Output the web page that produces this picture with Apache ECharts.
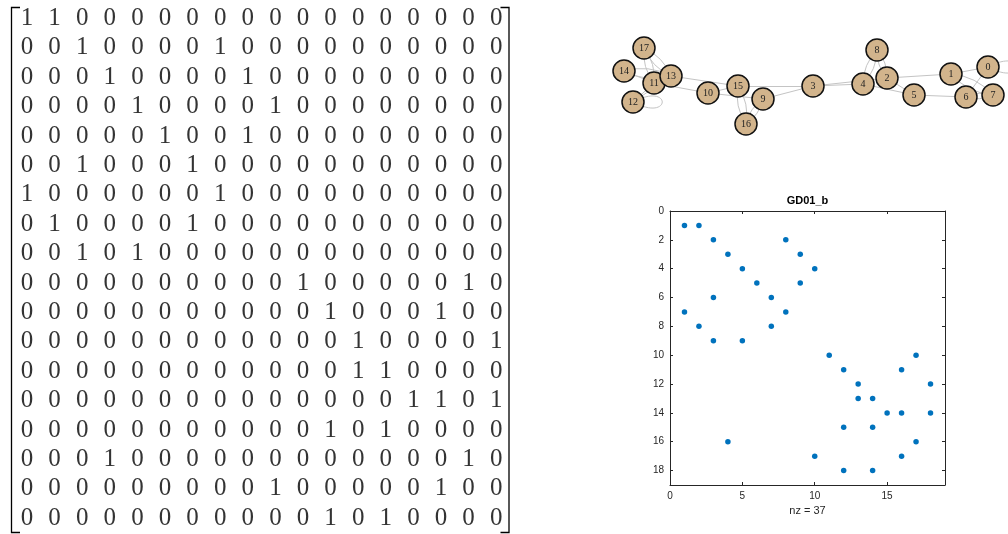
<!DOCTYPE html>
<html>
<head>
<meta charset="utf-8">
<script src="https://cdn.jsdelivr.net/npm/echarts@6/dist/echarts.min.js"></script>
<style>
    html, body { margin: 0; padding: 0; background: #fff; }
    #main { width: 1008px; height: 534px; }
</style>
</head>
<body>
<div id="main"></div>
<script>
// GD01_b adjacency matrix, row i -> node i-1
const matrix = [
    [1,1,0,0,0,0,0,0,0,0,0,0,0,0,0,0,0,0],
    [0,0,1,0,0,0,0,1,0,0,0,0,0,0,0,0,0,0],
    [0,0,0,1,0,0,0,0,1,0,0,0,0,0,0,0,0,0],
    [0,0,0,0,1,0,0,0,0,1,0,0,0,0,0,0,0,0],
    [0,0,0,0,0,1,0,0,1,0,0,0,0,0,0,0,0,0],
    [0,0,1,0,0,0,1,0,0,0,0,0,0,0,0,0,0,0],
    [1,0,0,0,0,0,0,1,0,0,0,0,0,0,0,0,0,0],
    [0,1,0,0,0,0,1,0,0,0,0,0,0,0,0,0,0,0],
    [0,0,1,0,1,0,0,0,0,0,0,0,0,0,0,0,0,0],
    [0,0,0,0,0,0,0,0,0,0,1,0,0,0,0,0,1,0],
    [0,0,0,0,0,0,0,0,0,0,0,1,0,0,0,1,0,0],
    [0,0,0,0,0,0,0,0,0,0,0,0,1,0,0,0,0,1],
    [0,0,0,0,0,0,0,0,0,0,0,0,1,1,0,0,0,0],
    [0,0,0,0,0,0,0,0,0,0,0,0,0,0,1,1,0,1],
    [0,0,0,0,0,0,0,0,0,0,0,1,0,1,0,0,0,0],
    [0,0,0,1,0,0,0,0,0,0,0,0,0,0,0,0,1,0],
    [0,0,0,0,0,0,0,0,0,1,0,0,0,0,0,1,0,0],
    [0,0,0,0,0,0,0,0,0,0,0,1,0,1,0,0,0,0]
];

// graph layout (node 0..17)
const nodeX = [388, 351, 287, 213, 263, 314, 366, 393, 277, 163, 108, 54, 33, 71, 24, 138, 146, 44];
const nodeY = [37, 44, 48, 56, 54, 65, 67, 65, 20, 69, 63, 53, 72, 46, 41, 56, 94, 18];

const spyTitle = 'GD01_b';
const xTicksSpy = 5;
const yTicksSpy = 2;

let cells = [];
let nonzeros = [];
let links = [];
let loops = [];
matrix.forEach((row, r) => {
    row.forEach((v, c) => {
        cells.push([c + 1, r + 1, v]);
        if (v !== 0) {
            nonzeros.push([c + 1, r + 1]);
            if (r === c) {
                loops.push([nodeX[r], nodeY[r]]);
            } else {
                links.push({source: String(r), target: String(c)});
            }
        }
    });
});

const axisColor = '#262626';
const edgeColor = '#c4c4c4';
const sans = 'Liberation Sans, Arial, sans-serif';

// self loops: drawn to the right of the node, like igraph
function renderLoop(params, api) {
    let p = api.coord([api.value(0), api.value(1)]);
    let x = p[0], y = p[1];
    return {
        type: 'bezierCurve',
        shape: {x1: x, y1: y, x2: x, y2: y, cpx1: x + 39, cpy1: y - 21, cpx2: x + 39, cpy2: y + 21},
        style: {stroke: edgeColor, lineWidth: 1, fill: null},
        silent: true
    };
}

let chart = echarts.init(document.getElementById('main'));
let option = {
    animation: false,
    backgroundColor: '#fff',
    grid: [
        {left: 13.2, top: 3.8, width: 496.8, height: 529.2},
        {left: 600, top: 30, width: 408, height: 110},
        {left: 670, top: 211, width: 275, height: 274}
    ],
    xAxis: [
        {gridIndex: 0, type: 'value', min: 0.5, max: 18.5, show: false},
        {gridIndex: 1, type: 'value', min: 0, max: 408, show: false},
        {
            gridIndex: 2, type: 'value', min: 0, max: 19, interval: xTicksSpy, position: 'bottom',
            axisLine: {onZero: false, lineStyle: {color: axisColor, width: 1}},
            axisTick: {inside: true, length: 3, lineStyle: {color: axisColor}},
            axisLabel: {color: axisColor, fontSize: 10, fontFamily: sans, margin: 6, showMaxLabel: false},
            splitLine: {show: false},
            name: 'nz = ' + nonzeros.length, nameLocation: 'middle', nameGap: 20,
            nameTextStyle: {color: axisColor, fontSize: 11, fontFamily: sans}
        },
        {
            gridIndex: 2, type: 'value', min: 0, max: 19, interval: xTicksSpy, position: 'top',
            axisLine: {onZero: false, lineStyle: {color: axisColor, width: 1}},
            axisTick: {inside: true, length: 3, lineStyle: {color: axisColor}},
            axisLabel: {show: false},
            splitLine: {show: false},
            name: spyTitle, nameLocation: 'middle', nameGap: 5,
            nameTextStyle: {color: '#000', fontSize: 11, fontWeight: 'bold', fontFamily: sans}
        }
    ],
    yAxis: [
        {gridIndex: 0, type: 'value', min: 0.5, max: 18.5, inverse: true, show: false},
        {gridIndex: 1, type: 'value', min: 0, max: 110, inverse: true, show: false},
        {
            gridIndex: 2, type: 'value', min: 0, max: 19, interval: yTicksSpy, inverse: true, position: 'left',
            axisLine: {onZero: false, lineStyle: {color: axisColor, width: 1}},
            axisTick: {inside: true, length: 3, lineStyle: {color: axisColor}},
            axisLabel: {color: axisColor, fontSize: 10, fontFamily: sans, margin: 6, showMaxLabel: false},
            splitLine: {show: false}
        },
        {
            gridIndex: 2, type: 'value', min: 0, max: 19, interval: yTicksSpy, inverse: true, position: 'right',
            axisLine: {onZero: false, lineStyle: {color: axisColor, width: 1}},
            axisTick: {inside: true, length: 3, lineStyle: {color: axisColor}},
            axisLabel: {show: false},
            splitLine: {show: false}
        }
    ],
    graphic: [
        {
            type: 'polyline', silent: true,
            shape: {points: [[20, 7.5], [11.5, 7.5], [11.5, 532.5], [20, 532.5]]},
            style: {stroke: '#000', lineWidth: 1.3, fill: null}
        },
        {
            type: 'polyline', silent: true,
            shape: {points: [[500.5, 7.5], [509, 7.5], [509, 532.5], [500.5, 532.5]]},
            style: {stroke: '#000', lineWidth: 1.3, fill: null}
        }
    ],
    series: [
        {
            // matrix entries as text
            type: 'scatter', xAxisIndex: 0, yAxisIndex: 0,
            data: cells, symbolSize: 1,
            itemStyle: {color: 'rgba(0,0,0,0)'},
            label: {
                show: true, position: 'inside',
                formatter: p => String(p.value[2]),
                color: '#000', fontSize: 25, fontFamily: 'Liberation Serif, serif'
            },
            emphasis: {disabled: true}
        },
        {
            type: 'custom', xAxisIndex: 1, yAxisIndex: 1, z: 1,
            data: loops, renderItem: renderLoop, clip: false
        },
        {
            type: 'graph', coordinateSystem: 'cartesian2d', xAxisIndex: 1, yAxisIndex: 1, z: 2,
            layout: 'none', symbolSize: 22, autoCurveness: true,
            data: nodeX.map((x, i) => ({name: String(i), value: [x, nodeY[i]]})),
            links: links,
            itemStyle: {color: '#D2B48C', borderColor: '#111', borderWidth: 1.5},
            label: {show: true, position: 'inside', color: '#222', fontSize: 10, fontFamily: 'Liberation Serif, serif'},
            lineStyle: {color: edgeColor, width: 1, opacity: 1},
            emphasis: {disabled: true}
        },
        {
            type: 'scatter', xAxisIndex: 2, yAxisIndex: 2,
            data: nonzeros, symbolSize: 5.5,
            itemStyle: {color: '#0072BD', opacity: 1},
            emphasis: {disabled: true}
        }
    ]
};
option && chart.setOption(option);
</script>
</body>
</html>
